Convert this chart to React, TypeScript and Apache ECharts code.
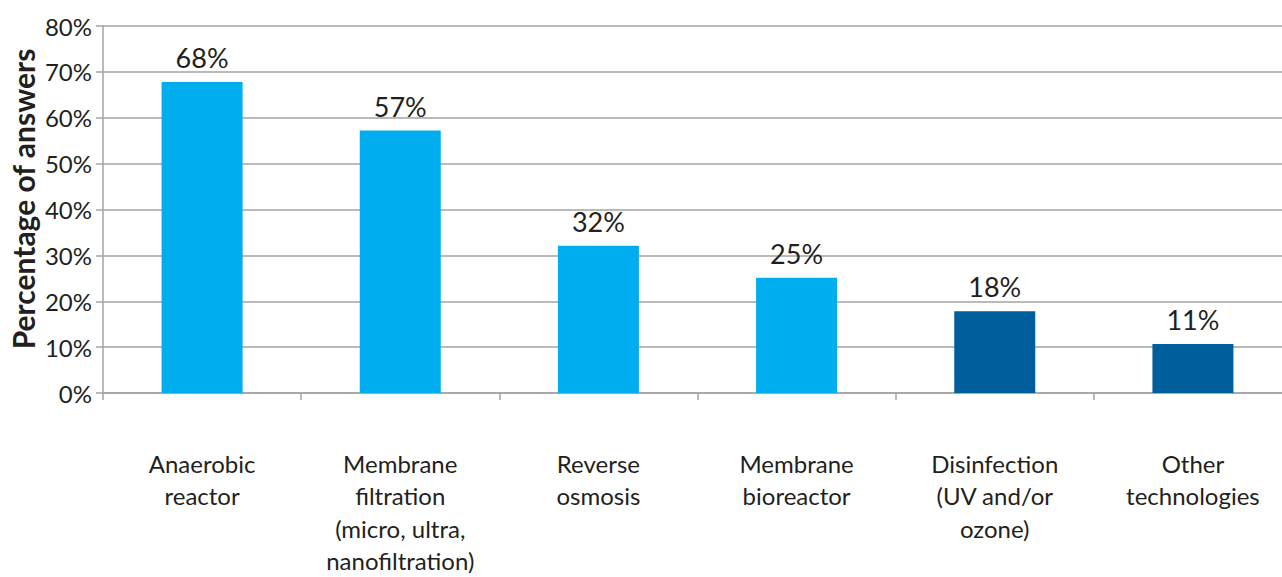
import React, { useEffect, useRef } from "react";
import * as echarts from "echarts";

const categories = [
  "Anaerobic\nreactor",
  "Membrane\nfiltration\n(micro, ultra,\nnanofiltration)",
  "Reverse\nosmosis",
  "Membrane\nbioreactor",
  "Disinfection\n(UV and/or\nozone)",
  "Other\ntechnologies",
];
const values = [67.8, 57.2, 32.1, 25.1, 17.8, 10.7];
const barColors = ["#00AEEF", "#00AEEF", "#00AEEF", "#00AEEF", "#005E9C", "#005E9C"];
const yTicks = [0, 10, 20, 30, 40, 50, 60, 70, 80];
const yAxisTitle = "Percentage of answers";

const FONT = "Lato";
const TEXT = "#231F20";
const GRID = "#A3A3A5";

export default function App() {
  const ref = useRef<HTMLDivElement>(null);
  useEffect(() => {
    if (!ref.current) return;
    const chart = echarts.init(ref.current, undefined, { renderer: "svg" });
    chart.setOption({
      animation: false,
      grid: {
        left: 103,
        right: -10,
        top: 26,
        bottom: 184,
        containLabel: false,
        outerBoundsMode: "none",
      },
      xAxis: {
        type: "category",
        data: categories,
        axisLine: { lineStyle: { color: GRID, width: 1.5 } },
        axisTick: { show: true, length: 7, lineStyle: { color: GRID, width: 1.5 } },
        axisLabel: {
          margin: 54,
          color: TEXT,
          fontFamily: FONT,
          fontSize: 24,
          lineHeight: 32.5,
          interval: 0,
        },
      },
      yAxis: {
        type: "value",
        min: yTicks[0],
        max: yTicks[yTicks.length - 1],
        interval: 10,
        axisLine: { show: true, lineStyle: { color: GRID, width: 1.5 } },
        axisTick: { show: true, length: 7, lineStyle: { color: GRID, width: 1.5 } },
        splitLine: { lineStyle: { color: GRID, width: 1.5 } },
        axisLabel: {
          margin: 11,
          color: TEXT,
          fontFamily: FONT,
          fontSize: 24,
          formatter: (v: number) => v + "%",
        },
      },
      graphic: [
        {
          type: "text",
          x: 23,
          y: 199,
          rotation: Math.PI / 2,
          style: {
            text: yAxisTitle,
            fontFamily: FONT,
            fontWeight: "bold",
            fontSize: 30,
            fill: TEXT,
            align: "center",
            verticalAlign: "middle",
          },
        },
      ],
      series: [
        {
          type: "bar",
          barWidth: 81,
          data: values.map((v, i) => ({ value: v, itemStyle: { color: barColors[i] } })),
          label: {
            show: true,
            position: "top",
            distance: 11,
            color: TEXT,
            fontFamily: FONT,
            fontSize: 27,
            formatter: (p: any) => Math.round(p.value) + "%",
          },
        },
      ],
    });
    return () => chart.dispose();
  }, []);
  return (
    <div
      ref={ref}
      style={{ position: "fixed", left: 0, top: 0, width: 1282, height: 577, background: "#fff" }}
    />
  );
}
